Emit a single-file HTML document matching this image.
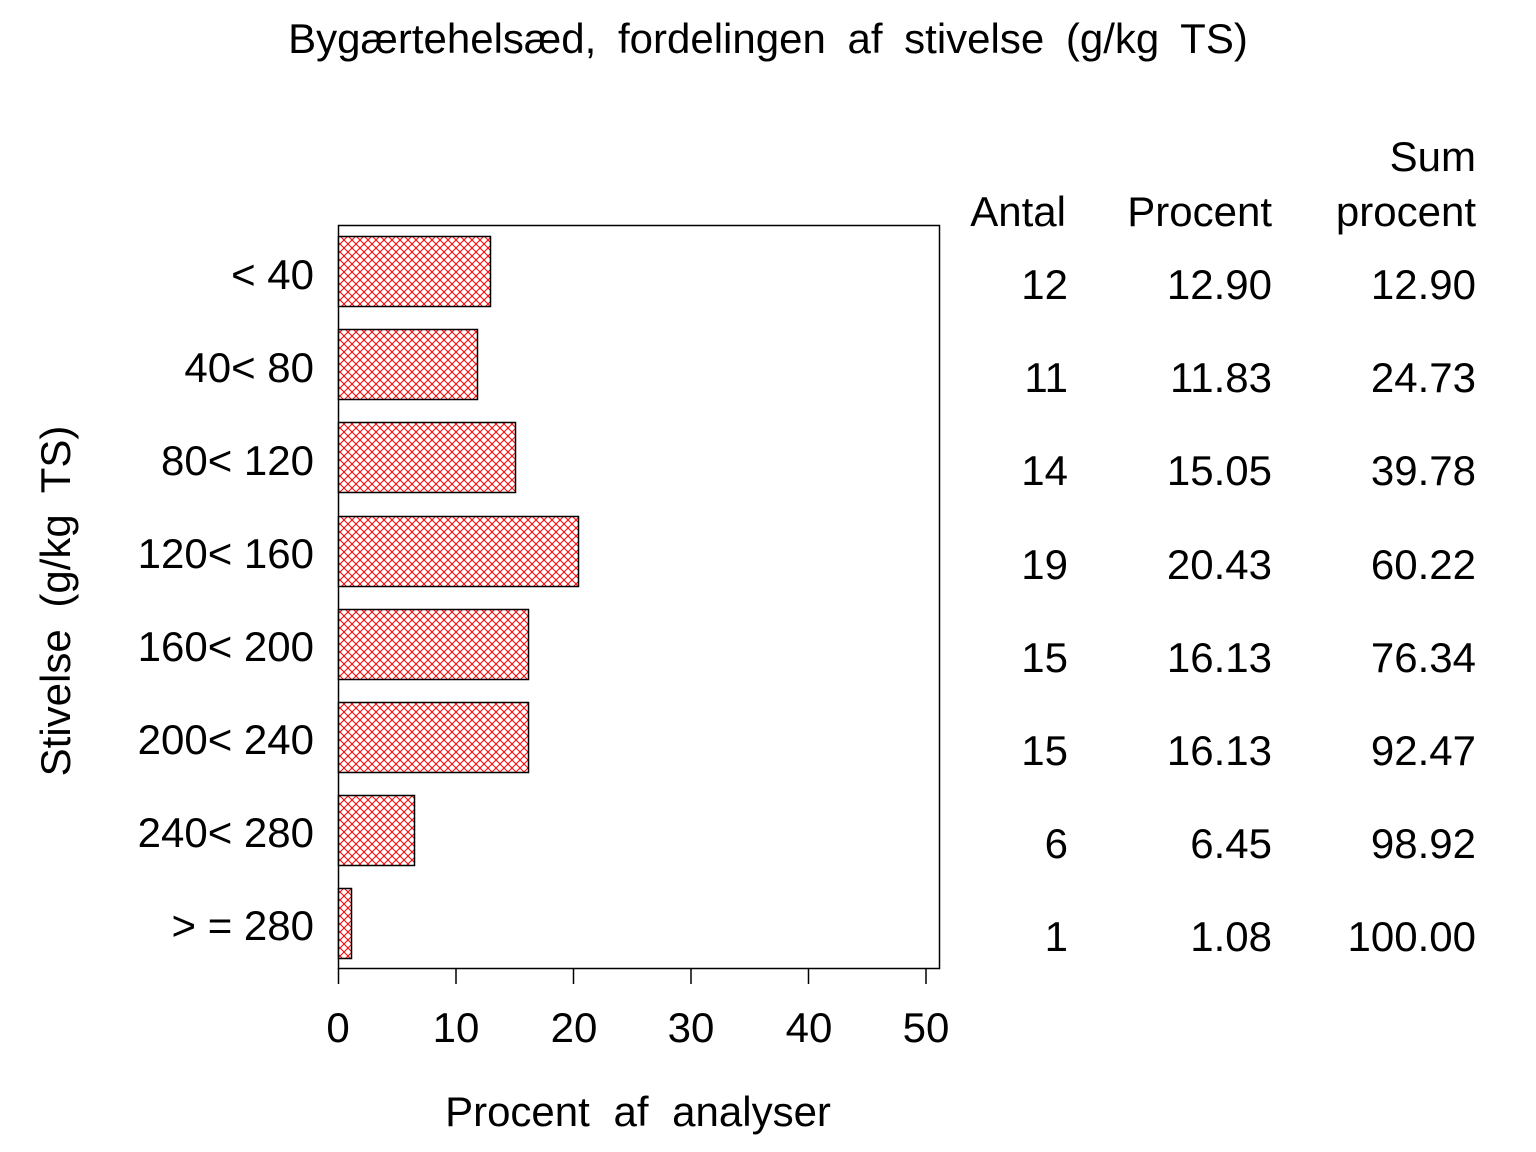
<!DOCTYPE html>
<html><head><meta charset="utf-8"><style>
html,body{margin:0;padding:0;background:#fff;}
svg{display:block;font-family:"Liberation Sans",sans-serif;}
</style></head><body>
<svg width="1536" height="1152" viewBox="0 0 1536 1152" xmlns="http://www.w3.org/2000/svg">
<defs>
<pattern id="h" width="8" height="8" patternUnits="userSpaceOnUse">
<rect width="8" height="8" fill="#fff"/>
<path d="M0,0 L8,8 M8,0 L0,8" stroke="#f00" stroke-width="1"/>
</pattern>
</defs>
<text x="768" y="53" text-anchor="middle" font-size="42" word-spacing="10">Bygærtehelsæd, fordelingen af stivelse (g/kg TS)</text>
<rect x="338.5" y="225.5" width="601" height="743" fill="none" stroke="#000" stroke-width="1.5"/>
<g stroke="#000" stroke-width="1.5" fill="url(#h)">
<rect x="338.5" y="236.5" width="152" height="70"/>
<rect x="338.5" y="329.5" width="139" height="70"/>
<rect x="338.5" y="422.5" width="177" height="70"/>
<rect x="338.5" y="516.5" width="240" height="70"/>
<rect x="338.5" y="609.5" width="190" height="70"/>
<rect x="338.5" y="702.5" width="190" height="70"/>
<rect x="338.5" y="795.5" width="76" height="70"/>
<rect x="338.5" y="888.5" width="13" height="70"/>
</g>
<g stroke="#000" stroke-width="1.5">
<line x1="338.5" y1="968" x2="338.5" y2="984"/>
<line x1="456" y1="968" x2="456" y2="984"/>
<line x1="573.5" y1="968" x2="573.5" y2="984"/>
<line x1="691" y1="968" x2="691" y2="984"/>
<line x1="808.5" y1="968" x2="808.5" y2="984"/>
<line x1="926" y1="968" x2="926" y2="984"/>
</g>
<g font-size="42" text-anchor="middle">
<text x="338" y="1042">0</text><text x="456" y="1042">10</text><text x="574" y="1042">20</text>
<text x="691" y="1042">30</text><text x="809" y="1042">40</text><text x="926" y="1042">50</text>
<text x="638" y="1126" word-spacing="12">Procent af analyser</text>
</g>
<text transform="translate(70,601) rotate(-90)" font-size="42" text-anchor="middle" word-spacing="10">Stivelse (g/kg TS)</text>
<g font-size="42" text-anchor="end">
<text x="314" y="289">&lt; 40</text>
<text x="314" y="382">40&lt; 80</text>
<text x="314" y="475">80&lt; 120</text>
<text x="314" y="568">120&lt; 160</text>
<text x="314" y="661">160&lt; 200</text>
<text x="314" y="754">200&lt; 240</text>
<text x="314" y="847">240&lt; 280</text>
<text x="314" y="940">&gt; = 280</text>
</g>
<g font-size="42" text-anchor="end">
<text x="1066" y="226">Antal</text>
<text x="1272" y="226">Procent</text>
<text x="1476" y="171">Sum</text>
<text x="1476" y="226">procent</text>
<text x="1068" y="299">12</text><text x="1272" y="299">12.90</text><text x="1476" y="299">12.90</text>
<text x="1068" y="392">11</text><text x="1272" y="392">11.83</text><text x="1476" y="392">24.73</text>
<text x="1068" y="485">14</text><text x="1272" y="485">15.05</text><text x="1476" y="485">39.78</text>
<text x="1068" y="579">19</text><text x="1272" y="579">20.43</text><text x="1476" y="579">60.22</text>
<text x="1068" y="672">15</text><text x="1272" y="672">16.13</text><text x="1476" y="672">76.34</text>
<text x="1068" y="765">15</text><text x="1272" y="765">16.13</text><text x="1476" y="765">92.47</text>
<text x="1068" y="858">6</text><text x="1272" y="858">6.45</text><text x="1476" y="858">98.92</text>
<text x="1068" y="951">1</text><text x="1272" y="951">1.08</text><text x="1476" y="951">100.00</text>
</g>
</svg>
</body></html>
